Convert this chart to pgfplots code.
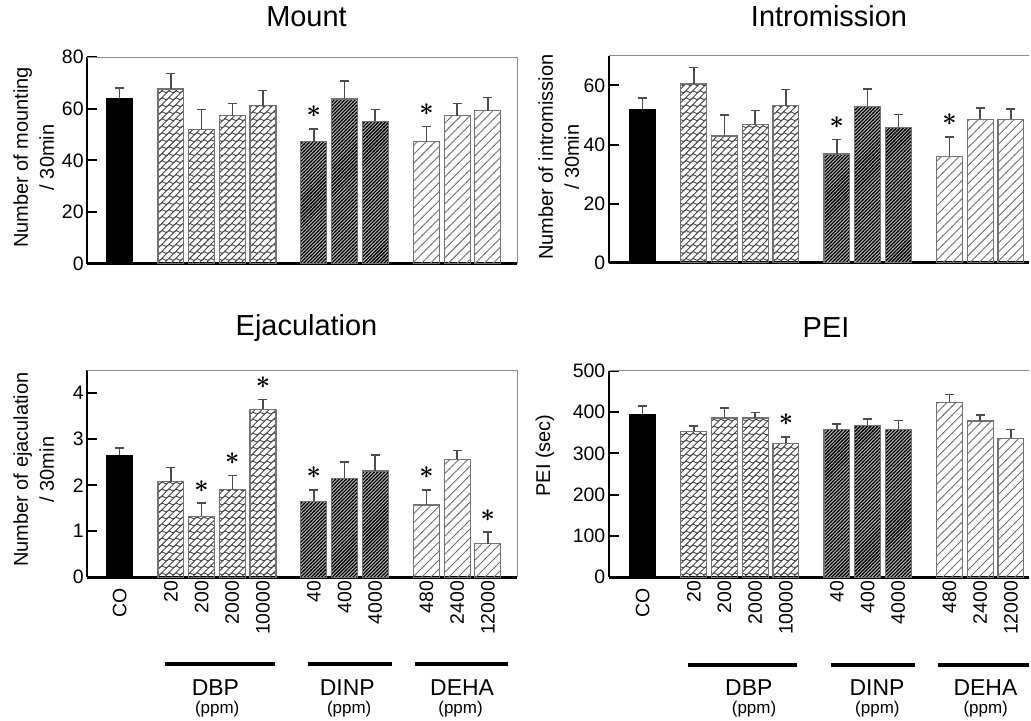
\documentclass[border=0pt]{standalone}
\usepackage{fontspec}
\setmainfont{Liberation Sans}
\usepackage{pgfplots}
\pgfplotsset{compat=1.18}
\usetikzlibrary{patterns}

\DeclareRobustCommand{\sigstar}{{\fontsize{46}{46}\selectfont\boldmath$\ast$}}

\pgfdeclarepatternformonly{dbpwave}{\pgfqpoint{-1pt}{-3pt}}{\pgfqpoint{8pt}{8pt}}{\pgfqpoint{7pt}{7pt}}{%
  \pgfsetlinewidth{0.9pt}%
  \pgfpathmoveto{\pgfqpoint{0pt}{0pt}}\pgfpathlineto{\pgfqpoint{7pt}{7pt}}%
  \pgfpathmoveto{\pgfqpoint{0pt}{0pt}}\pgfpathcurveto{\pgfqpoint{2.3pt}{3pt}}{\pgfqpoint{4.7pt}{-3pt}}{\pgfqpoint{7pt}{0pt}}%
  \pgfusepath{stroke}}
\pgfdeclarepatternformonly{dinplines}{\pgfqpoint{-1pt}{-1pt}}{\pgfqpoint{4.5pt}{4.5pt}}{\pgfqpoint{3.5pt}{3.5pt}}{%
  \pgfsetlinewidth{1.1pt}%
  \pgfpathmoveto{\pgfqpoint{-0.5pt}{-0.5pt}}\pgfpathlineto{\pgfqpoint{4pt}{4pt}}%
  \pgfusepath{stroke}}
\pgfdeclarepatternformonly{dehalines}{\pgfqpoint{-1pt}{-1pt}}{\pgfqpoint{10pt}{10pt}}{\pgfqpoint{9pt}{9pt}}{%
  \pgfsetlinewidth{0.9pt}%
  \pgfpathmoveto{\pgfqpoint{-0.5pt}{-0.5pt}}\pgfpathlineto{\pgfqpoint{9.5pt}{9.5pt}}%
  \pgfusepath{stroke}}

\pgfplotsset{
  panel/.style={
    scale only axis, clip=false, enlargelimits=false,
    axis x line*=bottom, axis y line*=left,
    x axis line style={-, line width=3pt, black},
    y axis line style={-, line width=2.6pt, black},
    tick align=inside, major tick length=10pt,
    ytick style={line width=2pt, black},
    xtick style={draw=none},
    /pgf/number format/assume math mode=true,
    tick label style={font=\fontsize{19.5}{19.5}\selectfont},
    xticklabel style={rotate=90, anchor=east},
    title style={font=\fontsize{29}{29}\selectfont, anchor=base},
    ylabel style={font=\fontsize{20}{26}\selectfont, align=center, anchor=center},
  },
  xlabs/.style={xtick={0,1.67,2.67,3.67,4.67,6.33,7.33,8.33,10,11,12},
    xticklabels={CO\hspace*{8pt},20,200,2000,10000,40,400,4000,480,2400,12000}},
  barbase/.style={ybar, bar width=26pt, bar shift=0pt, draw=black!55, line width=1.2pt,
    /pgfplots/error bars/y dir=plus, /pgfplots/error bars/y explicit,
    /pgfplots/error bars/error bar style={line width=1.5pt, black!70},
    /pgfplots/error bars/error mark options={rotate=90, mark size=4.5pt, line width=1.5pt, black!70}},
  barCO/.style={barbase, fill=black, draw=black},
  barDBP/.style={barbase, pattern=dbpwave, pattern color=black!72},
  barDINP/.style={barbase, fill=black!30, postaction={pattern=dinplines, pattern color=black}},
  barDEHA/.style={barbase, pattern=dehalines, pattern color=black!55},
  starplot/.style={only marks, mark=*, mark size=0pt, mark options={draw=none, fill=none},
    nodes near coords={\sigstar},
    every node near coord/.style={anchor=center, yshift=17pt, inner sep=0pt, black}},
}

\newcommand{\frameTR}{\draw[black!45, line width=1pt] (rel axis cs:0,1) -- (rel axis cs:1,1) -- (rel axis cs:1,0);}
\newcommand{\frameT}{\draw[black!45, line width=1pt] (rel axis cs:0,1) -- (rel axis cs:1,1);}

\begin{document}
\begin{tikzpicture}
\path (0,0) rectangle (1031pt,722pt);

% ---------------- Mount ----------------
\begin{axis}[panel, at={(87.3pt,457.7pt)}, anchor=south west, width=431pt, height=207pt,
  xmin=-1.06, xmax=12.96, ymin=0, ymax=80, ytick={0,20,40,60,80}, xtick=\empty,
  title={Mount}, title style={at={(axis description cs:0.51,1)}, yshift=25pt},
  ylabel={Number of mounting\\/ 30min}, ylabel style={at={(axis description cs:-0.124,0.515)}}]
\addplot[barCO] coordinates {(0,63.8) +- (0,4.3)};
\addplot[barDBP] coordinates {(1.67,67.7) +- (0,6.0) (2.67,51.9) +- (0,7.9) (3.67,57.4) +- (0,4.7) (4.67,61.2) +- (0,5.9)};
\addplot[barDINP] coordinates {(6.33,47.3) +- (0,4.9) (7.33,63.8) +- (0,7.0) (8.33,55.1) +- (0,4.7)};
\addplot[barDEHA] coordinates {(10,47.3) +- (0,5.8) (11,57.4) +- (0,4.7) (12,59.2) +- (0,5.2)};
\addplot[starplot] coordinates {(6.33,52.2) (10,53.1)};
\frameTR
\end{axis}

% ---------------- Intromission ----------------
\begin{axis}[panel, at={(610pt,458.7pt)}, anchor=south west, width=421pt, height=207.3pt,
  xmin=-1.1, xmax=12.59, ymin=0, ymax=70, ytick={0,20,40,60}, xtick=\empty,
  title={Intromission}, title style={at={(axis description cs:0.524,1)}, yshift=23.7pt},
  ylabel={Number of intromission\\/ 30min}, ylabel style={at={(axis description cs:-0.119,0.51)}}]
\addplot[barCO] coordinates {(0,51.9) +- (0,3.9)};
\addplot[barDBP] coordinates {(1.67,60.5) +- (0,5.6) (2.67,42.9) +- (0,7.1) (3.67,46.9) +- (0,4.6) (4.67,53.2) +- (0,5.4)};
\addplot[barDINP] coordinates {(6.33,36.8) +- (0,4.9) (7.33,53.0) +- (0,5.8) (8.33,45.8) +- (0,4.3)};
\addplot[barDEHA] coordinates {(10,36.0) +- (0,6.6) (11,48.6) +- (0,3.7) (12,48.6) +- (0,3.4)};
\addplot[starplot] coordinates {(6.33,41.7) (10,42.6)};
\frameT
\end{axis}

% ---------------- Ejaculation ----------------
\begin{axis}[panel, xlabs, at={(87.3pt,143.7pt)}, anchor=south west, width=431pt, height=207.3pt,
  xmin=-1.06, xmax=12.96, ymin=0, ymax=4.5, ytick={0,1,2,3,4},
  title={Ejaculation}, title style={at={(axis description cs:0.51,1)}, yshift=29.3pt},
  ylabel={Number of ejaculation\\/ 30min}, ylabel style={at={(axis description cs:-0.124,0.52)}}]
\addplot[barCO] coordinates {(0,2.65) +- (0,0.16)};
\addplot[barDBP] coordinates {(1.67,2.08) +- (0,0.31) (2.67,1.32) +- (0,0.29) (3.67,1.90) +- (0,0.31) (4.67,3.65) +- (0,0.21)};
\addplot[barDINP] coordinates {(6.33,1.65) +- (0,0.25) (7.33,2.15) +- (0,0.36) (8.33,2.31) +- (0,0.35)};
\addplot[barDEHA] coordinates {(10,1.57) +- (0,0.33) (11,2.56) +- (0,0.20) (12,0.73) +- (0,0.25)};
\addplot[starplot] coordinates {(2.67,1.61) (3.67,2.21) (4.67,3.86) (6.33,1.90) (10,1.90) (12,0.98)};
\frameTR
\draw[line width=4pt] ([yshift=-86.7pt]axis cs:1.49,0) -- ([yshift=-86.7pt]axis cs:5.07,0);
\draw[line width=4pt] ([yshift=-86.7pt]axis cs:6.15,0) -- ([yshift=-86.7pt]axis cs:8.89,0);
\draw[line width=4pt] ([yshift=-86.7pt]axis cs:9.63,0) -- ([yshift=-86.7pt]axis cs:12.65,0);
\node[font=\fontsize{23}{23}\selectfont, anchor=base] at ([yshift=-118.4pt]axis cs:3.12,0) {DBP};
\node[font=\fontsize{23}{23}\selectfont, anchor=base] at ([yshift=-118.4pt]axis cs:7.42,0) {DINP};
\node[font=\fontsize{23}{23}\selectfont, anchor=base] at ([yshift=-118.4pt]axis cs:11.16,0) {DEHA};
\node[font=\fontsize{17}{17}\selectfont, anchor=center] at ([yshift=-131.7pt]axis cs:3.18,0) {(ppm)};
\node[font=\fontsize{17}{17}\selectfont, anchor=center] at ([yshift=-131.7pt]axis cs:7.48,0) {(ppm)};
\node[font=\fontsize{17}{17}\selectfont, anchor=center] at ([yshift=-131.7pt]axis cs:11.11,0) {(ppm)};
\end{axis}

% ---------------- PEI ----------------
\begin{axis}[panel, xlabs, at={(610pt,143.7pt)}, anchor=south west, width=421pt, height=206.6pt,
  xmin=-1.1, xmax=12.59, ymin=0, ymax=500, ytick={0,100,200,300,400,500},
  title={PEI}, title style={at={(axis description cs:0.517,1)}, yshift=27.7pt},
  ylabel={PEI (sec)}, ylabel style={at={(axis description cs:-0.152,0.59)}}]
\addplot[barCO] coordinates {(0,394.7) +- (0,20.3)};
\addplot[barDBP] coordinates {(1.67,353.4) +- (0,13.6) (2.67,386) +- (0,24) (3.67,386) +- (0,12.8) (4.67,324.3) +- (0,16.2)};
\addplot[barDINP] coordinates {(6.33,357.5) +- (0,13.9) (7.33,368) +- (0,15.5) (8.33,357.5) +- (0,21.9)};
\addplot[barDEHA] coordinates {(10,423.8) +- (0,18.7) (11,378.6) +- (0,14.6) (12,336.4) +- (0,21.1)};
\addplot[starplot] coordinates {(4.67,340.5)};
\frameT
\draw[line width=4pt] ([yshift=-88.4pt]axis cs:1.49,0) -- ([yshift=-88.4pt]axis cs:5.04,0);
\draw[line width=4pt] ([yshift=-88.4pt]axis cs:6.13,0) -- ([yshift=-88.4pt]axis cs:8.87,0);
\draw[line width=4pt] ([yshift=-88.4pt]axis cs:9.62,0) -- ([yshift=-88.4pt]axis cs:12.59,0);
\node[font=\fontsize{23}{23}\selectfont, anchor=base] at ([yshift=-118.4pt]axis cs:3.46,0) {DBP};
\node[font=\fontsize{23}{23}\selectfont, anchor=base] at ([yshift=-118.4pt]axis cs:7.64,0) {DINP};
\node[font=\fontsize{23}{23}\selectfont, anchor=base] at ([yshift=-118.4pt]axis cs:11.17,0) {DEHA};
\node[font=\fontsize{17}{17}\selectfont, anchor=center] at ([yshift=-131.7pt]axis cs:3.63,0) {(ppm)};
\node[font=\fontsize{17}{17}\selectfont, anchor=center] at ([yshift=-131.7pt]axis cs:7.65,0) {(ppm)};
\node[font=\fontsize{17}{17}\selectfont, anchor=center] at ([yshift=-131.7pt]axis cs:11.18,0) {(ppm)};
\end{axis}
\end{tikzpicture}
\end{document}
